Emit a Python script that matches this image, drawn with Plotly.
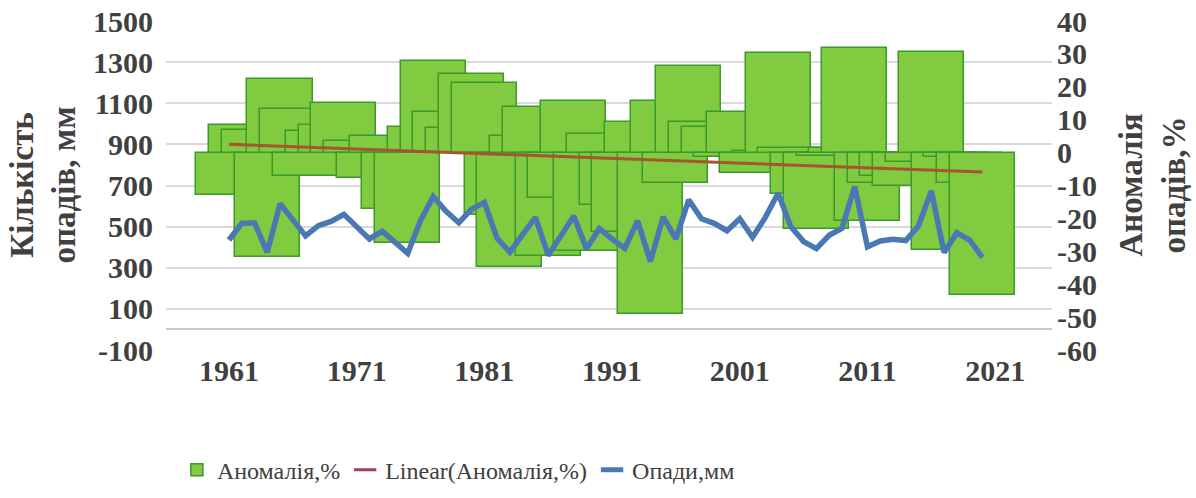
import numpy as np
import plotly.graph_objects as go

# Annual precipitation anomaly (%) and precipitation totals (mm), 1961-2020
years = list(range(1961, 2021))

anomaly_pct = [
    -12.9, 8.4, 6.9, -31.6, 22.3, 13.2, -7.1, 6.7, 8.4, 15.2,
    3.5, -7.8, 5.0, -17.0, -27.5, 7.9, 27.7, 12.4, 7.5, 23.8,
    21.2, -19.0, -34.7, 5.0, 14.0, -31.4, -13.8, 15.6, -30.0, 5.7,
    -16.0, -24.0, 9.4, -49.2, 15.6, -9.3, 26.3, 9.4, 7.8, -1.2,
    12.4, -6.2, 0.5, 30.2, 1.5, -12.5, -23.3, -1.0, 1.5, 31.9,
    -20.8, -9.2, -7.2, -10.0, -3.0, 30.6, -29.6, -1.2, -9.3, -43.3,
]

precip_mm = [
    435, 516, 519, 375, 612, 530, 455, 505, 525, 560,
    500, 440, 478, 425, 370, 530, 646, 575, 519, 585,
    618, 443, 376, 462, 545, 360, 462, 552, 393, 490,
    440, 395, 528, 330, 548, 440, 630, 538, 516, 480,
    538, 448, 545, 662, 500, 427, 393, 458, 492, 695,
    402, 430, 438, 432, 504, 674, 374, 470, 435, 350,
]

x_tick_years = [1961, 1971, 1981, 1991, 2001, 2011, 2021]
mm_ticks = [-100, 100, 300, 500, 700, 900, 1100, 1300, 1500]
pct_ticks = [-60, -50, -40, -30, -20, -10, 0, 10, 20, 30, 40]

# linear trend of the anomaly series
slope, intercept = np.polyfit(years, anomaly_pct, 1)
trend = [slope * y + intercept for y in years]

BAR_FILL = "#80CB3F"
BAR_EDGE = "#3A9A2A"
TREND = "#A6552E"
TREND_KEY = "#9B4553"
BLUE = "#4A78B4"
TEXT = "#404040"
FONT = "Liberation Serif, Tinos, 'Times New Roman', 'DejaVu Serif', serif"

fig = go.Figure()

fig.add_trace(go.Bar(
    x=years, y=anomaly_pct, width=5.1, yaxis="y",
    name="Аномалія,%",
    marker=dict(color=BAR_FILL, line=dict(color=BAR_EDGE, width=1.5)),
    showlegend=True,
))
fig.add_trace(go.Scatter(
    x=years, y=trend, yaxis="y", mode="lines",
    line=dict(color=TREND, width=3), showlegend=False,
))
fig.add_trace(go.Scatter(
    x=years, y=precip_mm, yaxis="y2", mode="lines",
    line=dict(color=BLUE, width=5.5), showlegend=False,
))
# short line keys for the legend
fig.add_trace(go.Scatter(
    x=[None], y=[None], yaxis="y", mode="markers",
    name="Linear(Аномалія,%)",
    marker=dict(symbol="line-ew", size=16, line=dict(color=TREND_KEY, width=3)),
))
fig.add_trace(go.Scatter(
    x=[None], y=[None], yaxis="y", mode="markers",
    name="Опади,мм",
    marker=dict(symbol="line-ew", size=18, line=dict(color=BLUE, width=5)),
))

tick_font = dict(family=FONT, size=30, color=TEXT, weight="bold")

fig.update_layout(
    width=1196, height=498,
    margin=dict(l=166, r=144, t=21, b=148, autoexpand=False),
    paper_bgcolor="white", plot_bgcolor="white",
    barmode="overlay", bargap=0,
    font=dict(family=FONT, color=TEXT),
    xaxis=dict(
        range=[1956.07, 2025.45], tickmode="array", tickvals=x_tick_years,
        ticktext=[str(v) for v in x_tick_years],
        showgrid=False, zeroline=False, showline=False, ticks="",
        tickfont=tick_font,
    ),
    yaxis=dict(
        side="right", range=[-60, 40], tickmode="array", tickvals=pct_ticks,
        ticktext=[str(v) for v in pct_ticks],
        showgrid=False, zeroline=False, showline=False, ticks="",
        tickfont=tick_font, ticklabelstandoff=4,
    ),
    yaxis2=dict(
        overlaying="y", side="left", range=[-100, 1500], tickmode="array",
        tickvals=mm_ticks, ticktext=[str(v) for v in mm_ticks],
        showgrid=True, gridcolor="#d9d9d9", gridwidth=2,
        zeroline=True, zerolinecolor="#c8c8c8", zerolinewidth=2,
        showline=False, ticks="", tickfont=tick_font, ticklabelstandoff=12,
    ),
    legend=dict(
        orientation="h", x=0.33, xanchor="center", y=-0.365, yanchor="middle",
        font=dict(family=FONT, size=24, color=TEXT),
        bgcolor="rgba(0,0,0,0)", itemwidth=30, tracegroupgap=0,
    ),
    annotations=[
        dict(text="<b>Кількість<br>опадів, мм</b>", xref="paper", yref="paper",
             x=-0.1388, y=0.5, xanchor="center", yanchor="middle",
             textangle=-90, showarrow=False,
             font=dict(family=FONT, size=33, color=TEXT)),
        dict(text="<b>Аномалія<br>опадів,%</b>", xref="paper", yref="paper",
             x=1.113, y=0.5, xanchor="center", yanchor="middle",
             textangle=-90, showarrow=False,
             font=dict(family=FONT, size=33, color=TEXT)),
    ],
)

fig.write_html("out.html")
